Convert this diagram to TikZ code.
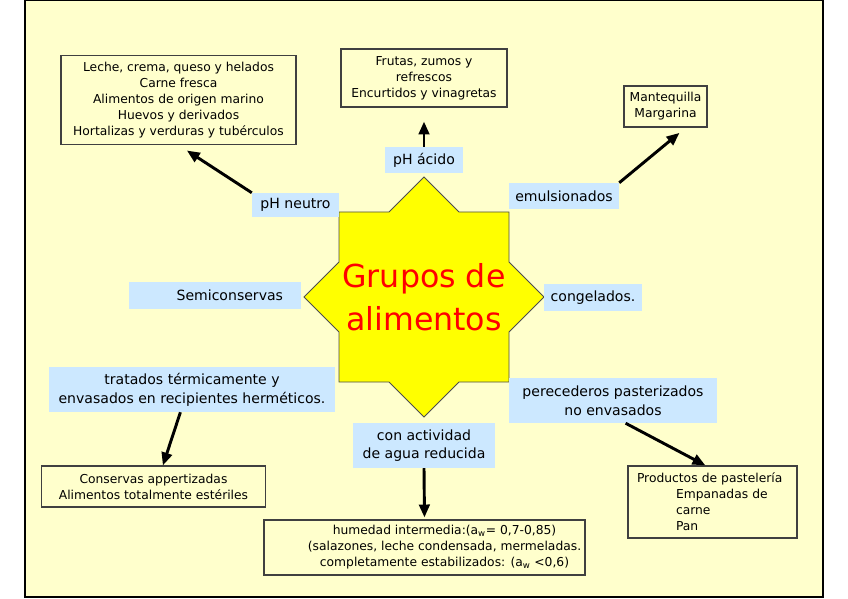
\documentclass[tikz,border=0pt]{standalone}
\usepackage{fontspec}
\setmainfont{DejaVu Sans}
\usetikzlibrary{arrows.meta}
\definecolor{fondo}{HTML}{FFFFCC}
\definecolor{celeste}{HTML}{CCE8FF}
\definecolor{estrella}{HTML}{FFFF00}
\begin{document}
\begin{tikzpicture}[x=0.03cm, y=-0.03cm,
    caja/.style={draw=black!75, line width=1pt, fill=fondo, inner sep=0pt, align=center, font=\fontsize{10.5}{13.6}\selectfont},
    etiqueta/.style={fill=celeste, inner sep=0pt, align=center, font=\fontsize{12}{16}\selectfont},
    flecha/.style={line width=2.5pt, -{Triangle[length=11pt,width=9pt]}}]
    \useasboundingbox (0,0) rectangle (848,599);
    \draw[fill=fondo, line width=1pt] (25,0) rectangle (823,597);
    % the eight-pointed star in the middle
    \draw[fill=estrella, draw=black!70, line width=0.8pt, shift={(424,297)}]
        (0,-120) -- (35,-85) -- (85,-85) -- (85,-35) -- (120,0) -- (85,35) -- (85,85) -- (35,85)
        -- (0,120) -- (-35,85) -- (-85,85) -- (-85,35) -- (-120,0) -- (-85,-35) -- (-85,-85) -- (-35,-85) -- cycle;
    \node[text=red, align=center, font=\fontsize{27}{37}\selectfont] (grupos) at (424,297) {Grupos de\\alimentos};
    % labels around the star
    \node[etiqueta, minimum width=2.61cm, minimum height=0.72cm] (neutro) at (295.5,205) {pH neutro};
    \node[etiqueta, minimum width=2.34cm, minimum height=0.78cm] (acido) at (424,160) {pH ácido};
    \node[etiqueta, minimum width=3.3cm, minimum height=0.78cm] (emuls) at (564,196) {emulsionados};
    \node[etiqueta, minimum width=5.16cm, minimum height=0.81cm, text width=4.08cm, align=right] (semi) at (215,295.5) {Semiconservas};
    \node[etiqueta, minimum width=2.94cm, minimum height=0.81cm] (congel) at (593,297.5) {congelados.};
    \node[etiqueta, minimum width=8.58cm, minimum height=1.35cm] (trat) at (192,389.5) {tratados térmicamente y\\envasados en recipientes herméticos.};
    \node[etiqueta, minimum width=4.26cm, minimum height=1.35cm] (agua) at (424,445.5) {con actividad\\de agua reducida};
    \node[etiqueta, minimum width=6.24cm, minimum height=1.35cm] (perec) at (613,400.5) {perecederos pasterizados\\no envasados};
    % boxes with examples
    \node[caja, minimum width=7.05cm, minimum height=2.67cm] (leche) at (178.5,100) {Leche, crema, queso y helados\\Carne fresca\\Alimentos de origen marino\\Huevos y derivados\\Hortalizas y verduras y tubérculos};
    \node[caja, minimum width=4.98cm, minimum height=1.74cm] (frutas) at (424,78) {Frutas, zumos y\\refrescos\\Encurtidos y vinagretas};
    \node[caja, minimum width=2.49cm, minimum height=1.23cm] (mant) at (665.5,106.5) {Mantequilla\\Margarina};
    \node[caja, minimum width=6.72cm, minimum height=1.23cm] (conserv) at (153.5,486.5) {Conservas appertizadas\\Alimentos totalmente estériles};
    \node[caja, minimum width=9.63cm, minimum height=1.65cm] (humedad) at (424.5,547.5) {\hspace*{1.2cm}humedad intermedia:(a\textsubscript{w}= 0,7-0,85)\\\hspace*{1.2cm}(salazones, leche condensada, mermeladas.\\\hspace*{1.2cm}completamente estabilizados: (a\textsubscript{w} <0,6)};
    \node[caja, minimum width=5.07cm, minimum height=2.16cm, text width=4.53cm, align=left] (prod) at (712.5,502) {Productos de pastelería\\\hspace*{1.17cm}Empanadas de\\\hspace*{1.17cm}carne\\\hspace*{1.17cm}Pan};
    % arrows
    \draw[flecha, shorten >=0.3cm] (neutro.north west) -- (leche.south);
    \draw[flecha, shorten >=0.42cm] (acido.north) -- (frutas.south);
    \draw[flecha, shorten >=0.25cm] (emuls.north east) -- (mant.-46);
    \draw[flecha] (trat.-117) -- (conserv.66);
    \draw[flecha, shorten >=0.06cm] (agua.south) -- (humedad.north);
    \draw[flecha] (perec.-61) -- (prod.101);
\end{tikzpicture}
\end{document}
